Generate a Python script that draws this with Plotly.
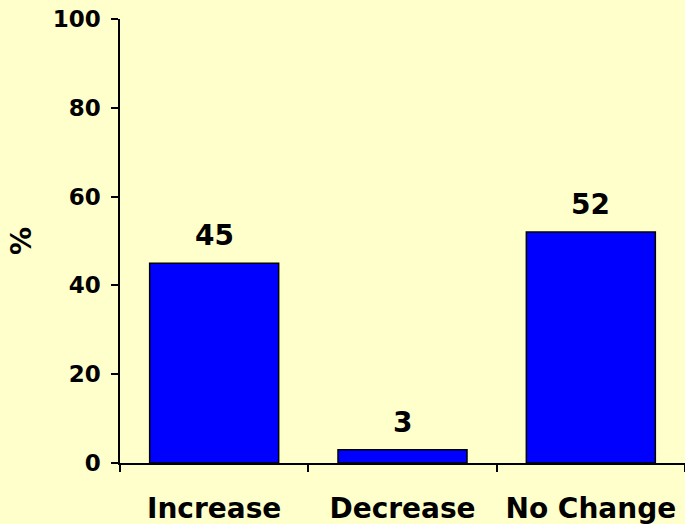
import plotly.graph_objects as go

categories = ["Increase", "Decrease", "No Change"]
values = [45, 3, 52]
y_ticks = [0, 20, 40, 60, 80, 100]

BG = "#FFFFCC"
FONT = "DejaVu Sans"

fig = go.Figure(
    go.Bar(
        x=categories,
        y=values,
        marker=dict(color="#0000FF", line=dict(color="#000000", width=1.5)),
        width=0.685,
        hoverinfo="skip",
    )
)

for cat, val in zip(categories, values):
    fig.add_annotation(
        x=cat, y=val, text=f"<b>{val}</b>", showarrow=False,
        yanchor="bottom", yshift=9,
        font=dict(family=FONT, size=28, color="#000000"),
    )

fig.update_layout(
    width=685, height=524,
    margin=dict(l=120, r=0, t=19, b=61),
    paper_bgcolor=BG, plot_bgcolor=BG,
    showlegend=False,
    font=dict(family=FONT, color="#000000"),
)

fig.update_xaxes(
    type="category",
    showline=True, linecolor="#000000", linewidth=1.5,
    ticks="outside", tickson="boundaries", ticklen=7, tickcolor="#000000", tickwidth=1.5,
    tickfont=dict(family=FONT, size=28, color="#000000", weight="bold"),
    ticklabelstandoff=20,
    showgrid=False, zeroline=False,
)

fig.update_yaxes(
    range=[0, 100], tickvals=y_ticks,
    showline=True, linecolor="#000000", linewidth=1.5,
    ticks="outside", ticklen=7, tickcolor="#000000", tickwidth=1.5,
    tickfont=dict(family=FONT, size=23, color="#000000", weight="bold"),
    ticklabelstandoff=6,
    showgrid=False, zeroline=False,
    title=dict(text="<b>%</b>", font=dict(family=FONT, size=28, color="#000000"), standoff=13),
)

fig.write_html("out.html")
